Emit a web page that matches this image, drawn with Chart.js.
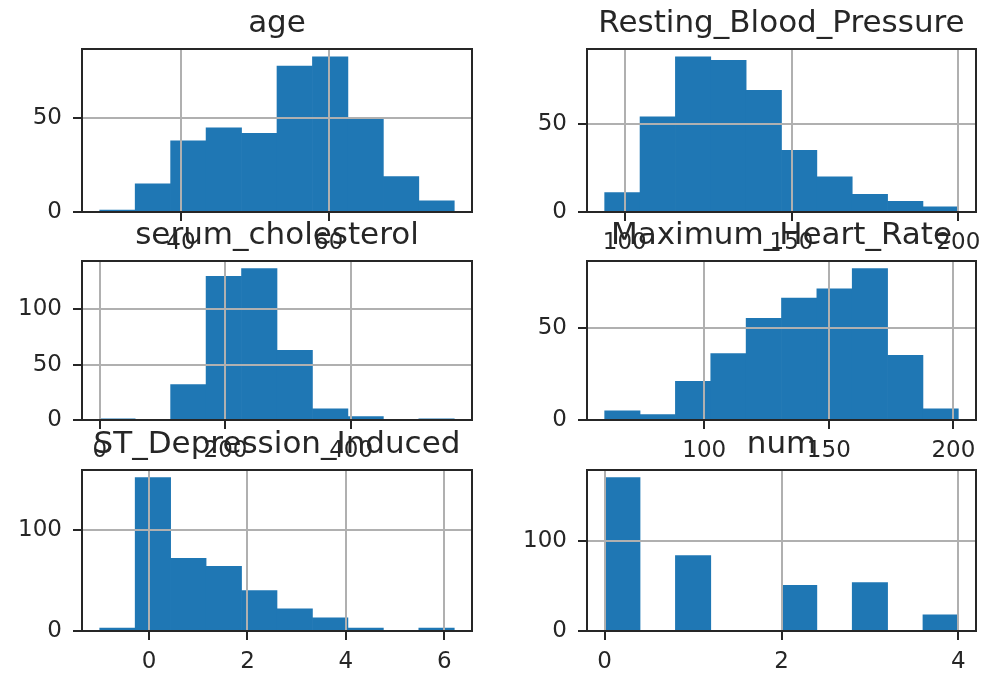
<!DOCTYPE html>
<html>
<head>
<meta charset="utf-8">
<script src="https://cdn.jsdelivr.net/npm/chart.js@4.4.1/dist/chart.umd.min.js"></script>
<style>
    html, body { margin: 0; padding: 0; background: #ffffff; overflow: hidden; }
    #grid { position: relative; width: 984px; height: 679px; }
    #grid canvas { position: absolute; }
</style>
</head>
<body>
<div id="grid"></div>
<script>
// Histogram data: [min, max] of each column, counts per bin (10 equal bins), tick values
const ageRange = [29, 77];
const ageCounts = [1, 15, 38, 45, 42, 78, 83, 50, 19, 6];
const ageXTicks = [40, 60];
const ageYTicks = [0, 50];

const bpRange = [94, 200];
const bpCounts = [11, 54, 88, 86, 69, 35, 20, 10, 6, 3];
const bpXTicks = [100, 150, 200];
const bpYTicks = [0, 50];

const cholRange = [0, 564];
const cholCounts = [1, 0, 32, 130, 137, 63, 10, 3, 0, 1];
const cholXTicks = [0, 200, 400];
const cholYTicks = [0, 50, 100];

const hrRange = [60, 202];
const hrCounts = [5, 3, 21, 36, 55, 66, 71, 82, 35, 6];
const hrXTicks = [100, 150, 200];
const hrYTicks = [0, 50];

const stRange = [-1, 6.2];
const stCounts = [3, 152, 72, 64, 40, 22, 13, 3, 0, 3];
const stXTicks = [0, 2, 4, 6];
const stYTicks = [0, 100];

const numRange = [0, 4];
const numCounts = [171, 0, 84, 0, 0, 51, 0, 54, 0, 18];
const numXTicks = [0, 2, 4];
const numYTicks = [0, 100];

const BAR_COLOR = '#1f77b4';
const TEXT_COLOR = '#262626';
const FONT = 'DejaVu Sans';

// plot boxes: [left, top, right, bottom]
const panels = [
    { title: 'age', range: ageRange, counts: ageCounts, xTicks: ageXTicks, yTicks: ageYTicks, box: [82, 49, 472, 212] },
    { title: 'Resting_Blood_Pressure', range: bpRange, counts: bpCounts, xTicks: bpXTicks, yTicks: bpYTicks, box: [587, 49, 976, 212] },
    { title: 'serum_cholesterol', range: cholRange, counts: cholCounts, xTicks: cholXTicks, yTicks: cholYTicks, box: [82, 261, 472, 420] },
    { title: 'Maximum_Heart_Rate', range: hrRange, counts: hrCounts, xTicks: hrXTicks, yTicks: hrYTicks, box: [587, 261, 976, 420] },
    { title: 'ST_Depression_Induced', range: stRange, counts: stCounts, xTicks: stXTicks, yTicks: stYTicks, box: [82, 470, 472, 631] },
    { title: 'num', range: numRange, counts: numCounts, xTicks: numXTicks, yTicks: numYTicks, box: [587, 470, 976, 631] },
];

const SIDE = 80;     // y label room, mirrored by an empty axis on the right so the title centres on the box
const TOP = 49;      // title block
const BOTTOM = 45;   // x ticks and labels

// black frame around the plot area, drawn last like the matplotlib spines
const framePlugin = {
    id: 'frame',
    afterDraw(chart) {
        const a = chart.chartArea;
        const ctx = chart.ctx;
        ctx.save();
        ctx.strokeStyle = TEXT_COLOR;
        ctx.lineWidth = 2;
        ctx.strokeRect(a.left, a.top, a.right - a.left, a.bottom - a.top);
        ctx.restore();
    }
};

function fixedTicks(values) {
    return function (scale) {
        scale.ticks = values.map(v => ({ value: v }));
    };
}

function makeHistogram(panel) {
    const [bl, bt, br, bb] = panel.box;
    const canvas = document.createElement('canvas');
    const w = br - bl + 2 * SIDE;
    const h = bb - bt + TOP + BOTTOM;
    canvas.width = w;
    canvas.height = h;
    canvas.style.left = (bl - SIDE) + 'px';
    canvas.style.top = (bt - TOP) + 'px';
    canvas.style.width = w + 'px';
    canvas.style.height = h + 'px';
    document.getElementById('grid').appendChild(canvas);

    const [lo, hi] = panel.range;
    const n = panel.counts.length;
    const binWidth = (hi - lo) / n;
    const points = panel.counts.map((c, i) => ({ x: lo + binWidth * (i + 0.5), y: c }));
    const span = hi - lo;
    const yMax = Math.max(...panel.counts) * 1.05;

    const gridOpts = {
        z: 1,
        offset: false,
        color: '#b0b0b0',
        lineWidth: 2,
        tickColor: TEXT_COLOR,
        tickWidth: 2,
        tickLength: 9,
        drawTicks: true,
    };

    new Chart(canvas, {
        type: 'bar',
        data: {
            datasets: [{
                data: points,
                backgroundColor: BAR_COLOR,
                borderWidth: 0,
                barPercentage: 1,
                categoryPercentage: 1,
            }]
        },
        options: {
            responsive: false,
            animation: false,
            events: [],
            layout: { padding: 0 },
            plugins: {
                legend: { display: false },
                tooltip: { enabled: false },
                title: {
                    display: true,
                    text: panel.title,
                    color: TEXT_COLOR,
                    font: { family: FONT, size: 31, weight: 'normal', lineHeight: 1 },
                    padding: { top: 8, bottom: 10 },
                },
            },
            scales: {
                x: {
                    type: 'linear',
                    offset: false,
                    min: lo - span * 0.05,
                    max: hi + span * 0.05,
                    afterBuildTicks: fixedTicks(panel.xTicks),
                    afterFit: scale => { scale.height = BOTTOM; },
                    grid: gridOpts,
                    border: { display: false },
                    ticks: {
                        autoSkip: false,
                        maxRotation: 0,
                        padding: 8,
                        color: TEXT_COLOR,
                        font: { family: FONT, size: 23 },
                    },
                },
                y: {
                    type: 'linear',
                    min: 0,
                    max: yMax,
                    afterBuildTicks: fixedTicks(panel.yTicks),
                    afterFit: scale => { scale.width = SIDE; },
                    grid: gridOpts,
                    border: { display: false },
                    ticks: {
                        autoSkip: false,
                        padding: 11,
                        color: TEXT_COLOR,
                        font: { family: FONT, size: 23 },
                    },
                },
                // empty spacer on the right
                pad: {
                    type: 'linear',
                    position: 'right',
                    afterFit: scale => { scale.width = SIDE; },
                    grid: { display: false },
                    border: { display: false },
                    ticks: { display: false },
                },
            },
        },
        plugins: [framePlugin],
    });
}

document.addEventListener('DOMContentLoaded', function () {
    panels.forEach(makeHistogram);
});
</script>
</body>
</html>
